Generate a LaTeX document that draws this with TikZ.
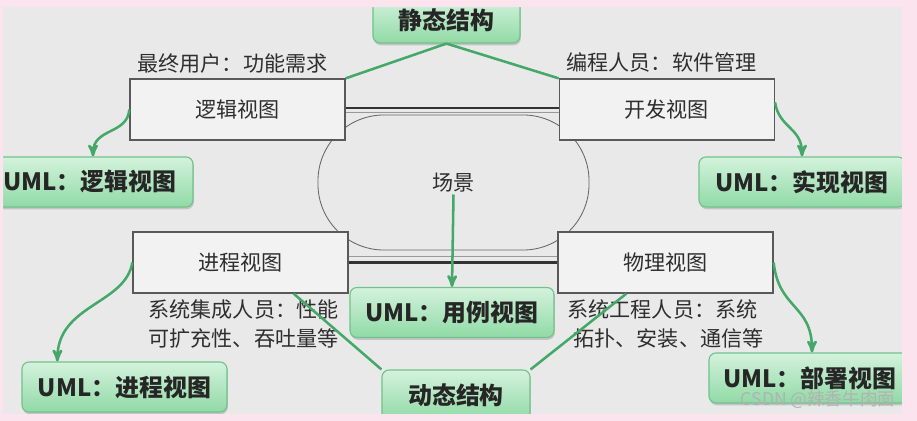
\documentclass[tikz,border=0pt]{standalone}
\usepackage{fontspec}
\setmainfont{Noto Sans CJK SC}
\usepackage{tikz}
\usetikzlibrary{arrows, shadows, positioning}
\definecolor{pinkbg}{HTML}{FCE4EE}
\definecolor{panel}{HTML}{E9E9E9}
\definecolor{gline}{HTML}{43A868}
\definecolor{gtop}{HTML}{D4F2DC}
\definecolor{gbot}{HTML}{90DAA6}
\definecolor{gedge}{HTML}{72C28D}
\definecolor{ink}{HTML}{2E2E2E}
\tikzstyle{view}=[rectangle, draw=black!65, fill=black!5, line width=0.9pt, minimum width=5.375cm, minimum height=1.525cm, text=ink, font=\fontsize{15pt}{16pt}\selectfont]
\tikzstyle{uml}=[rectangle, rounded corners=5pt, draw=gedge, line width=0.8pt, top color=gtop, bottom color=gbot, minimum height=1.25cm, drop shadow={shadow xshift=0.6pt, shadow yshift=-1.6pt, opacity=0.35}, text=black!85, font=\bfseries\fontsize{17pt}{19pt}\selectfont]
\tikzstyle{role}=[align=left, inner sep=0pt, text=ink, font=\fontsize{15pt}{20pt}\selectfont]
\tikzstyle{scene}=[rectangle, draw=black!60, line width=0.6pt, rounded corners=1.65cm, minimum width=6.775cm, minimum height=3.375cm, text=ink, font=\fontsize{15pt}{16pt}\selectfont]
\tikzstyle{link}=[draw=gline, line width=1.8pt]

\begin{document}
\begin{tikzpicture}[x=0.025cm, y=-0.025cm, >=stealth']
      \useasboundingbox (0,0) rectangle (917,421);
      \fill[panel] (0,0) rectangle (917,421);

      % the four views round the scene
      \node[scene] (scene) at (453.5,182.5) {场景};
      \node[view] (logic) at (237.5,109.5) {逻辑视图};
      \node[view] (dev)   [right=5.325cm of logic] {开发视图};
      \node[view] (proc)  at (240.5,262.5) {进程视图};
      \node[view] (phys)  at (665.5,262.5) {物理视图};

      \draw[black!80, line width=1.5pt] ([yshift=0.03cm]logic.east) -- ([yshift=0.03cm]dev.west);
      \draw[black!40, line width=0.5pt] ([yshift=-0.08cm]logic.east) -- ([yshift=-0.08cm]dev.west);
      \draw[black!80, line width=1.5pt] (proc.east) -- (phys.west);
      \draw[black!40, line width=0.5pt] ([yshift=0.15cm]proc.east) -- ([yshift=0.15cm]phys.west);

      \node[role] (endUser) at (232.5,63) {最终用户：功能需求};
      \node[role] (coder)   at (661.5,62) {编程人员：软件管理};
      \node[role] (integ)   at (243.5,324) {系统集成人员：性能\\可扩充性、吞吐量等};
      \node[role] (sysEng)  at (665.5,324) {系统工程人员：系统\\\hspace*{0.15cm}拓扑、安装、通信等};

      % UML views
      \node[uml, minimum width=5.15cm]  (umlLogic) at (90,182)    {UML：逻辑视图};
      \node[uml, minimum width=5.15cm]  (umlDev)   at (802,182)   {UML：实现视图};
      \node[uml, minimum width=5.1cm]   (umlUse)   at (452,312.5) {UML：用例视图};
      \node[uml, minimum width=5.125cm] (umlProc)  at (124.5,387) {UML：进程视图};
      \node[uml, minimum width=5.05cm]  (umlPhys)  at (810,378)   {UML：部署视图};

      \node[uml, minimum width=3.675cm, minimum height=1.125cm] (static) at (446.5,20.5) {静态结构};
      \node[uml, minimum width=3.7cm] (dyn) at (456,395) {动态结构};

      \draw[link] (static.south) -- (logic.north east);
      \draw[link] (static.south) -- (dev.north west);
      \draw[link] (dyn.north west) -- ([xshift=-1.375cm]proc.south east);
      \draw[link] (dyn.north east) -- ([xshift=1.725cm]phys.south west);

      \draw[link, ->] (logic.west) .. controls +(-2,25.5) and +(0,-29) .. ([xshift=0.075cm]umlLogic.north);
      \draw[link, ->] ([yshift=0.18cm]dev.east) .. controls +(4,26) and +(0,-29) .. (umlDev.north);
      \draw[link, ->] (proc.west) .. controls +(-7,42) and +(0,-57) .. ([xshift=0.9cm]umlProc.north west);
      \draw[link, ->] (phys.east) .. controls +(5,47) and +(0,-48) .. ([xshift=0.05cm]umlPhys.north);
      \draw[link, ->] ([yshift=-0.3cm]scene.center) -- (umlUse.north);

      \fill[pinkbg, even odd rule] (0,0) rectangle (917,421) (3,7) rectangle (902,414);
      \node[text=black!30, font=\fontsize{12.5pt}{14pt}\selectfont] (mark) at (818,400) {CSDN @辣香牛肉面};
\end{tikzpicture}
\end{document}
